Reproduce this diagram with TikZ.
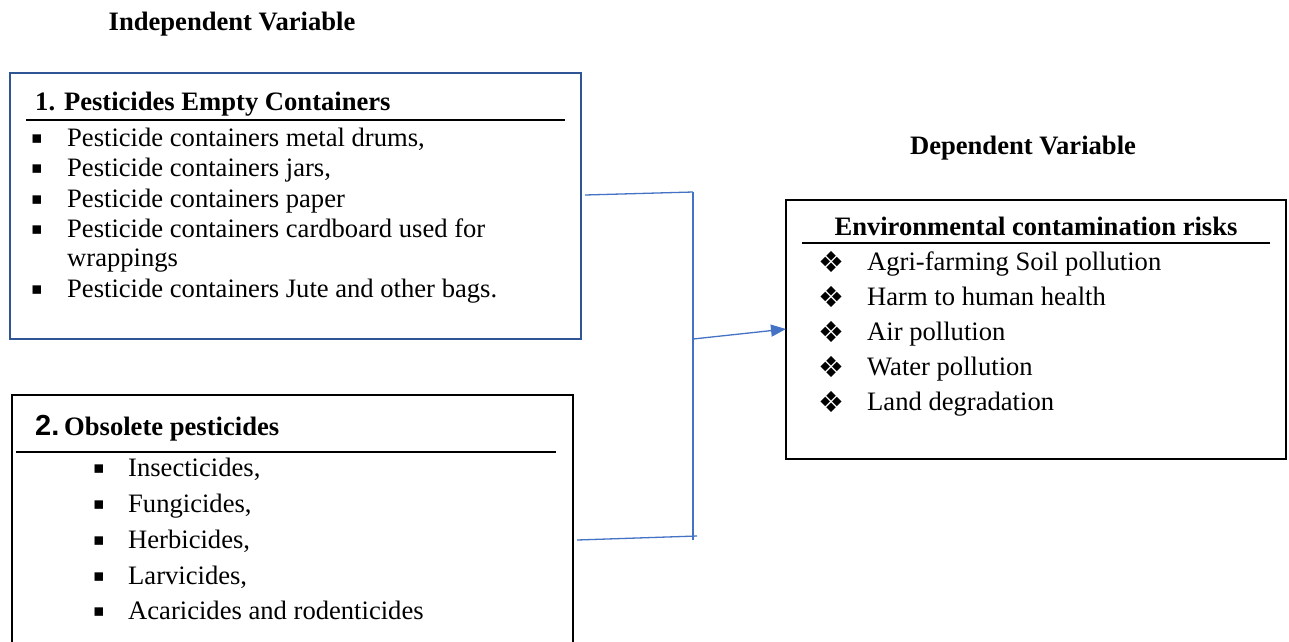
\documentclass[tikz,border=0pt]{standalone}
\usepackage{fontspec}
\setmainfont{Liberation Serif}
\newfontfamily\symfont{DejaVu Sans}
\newfontfamily\arialfont{Liberation Sans}
\usetikzlibrary{arrows.meta}
\definecolor{conblue}{HTML}{4472C4}
\definecolor{boxblue}{HTML}{2F5597}
\tikzset{
  txt/.style={anchor=base west, inner sep=0pt, font=\fontsize{26.6}{30}\selectfont},
  headtxt/.style={anchor=base west, inner sep=0pt, font=\bfseries\fontsize{26.6}{30}\selectfont},
  sqbullet/.style={anchor=center, inner sep=0pt, font=\symfont\fontsize{17}{17}\selectfont},
  diabullet/.style={anchor=center, inner sep=0pt, font=\symfont\fontsize{29}{29}\selectfont},
  conn/.style={draw=conblue, line width=1.3pt},
  hrule/.style={draw=black, line width=2.2pt},
  boxline/.style={draw=black, line width=2pt},
}
\begin{document}
\begin{tikzpicture}[x=1pt,y=-1pt]
\useasboundingbox[fill=white] (0,0) rectangle (1289,641);

% titles
\node[headtxt, anchor=base] (indep) at (232,30) {Independent Variable};
\node[headtxt, anchor=base] (dep) at (1023,154) {Dependent Variable};

% box 1
\draw[draw=boxblue, line width=2.6pt] (10,73) rectangle (581,339);
\node[headtxt] (h1) at (35,110) {1. Pesticides Empty Containers};
\draw[hrule] (26,120) -- (565,120);
\foreach \y/\t [count=\i] in {146/{Pesticide containers metal drums,},176/{Pesticide containers jars,},207/{Pesticide containers paper},237/{Pesticide containers cardboard used for},297/{Pesticide containers Jute and other bags.}}{
  \node[sqbullet] (ba\i) at (37,\y-7) {▪};
  \node[txt] (ta\i) at (67,\y) {\t};
}
\node[txt] (ta6) at (67,266) {wrappings};

% box 2
\draw[boxline] (12,650) -- (12,395) -- (573,395) -- (573,650);
\node[anchor=base west, inner sep=0pt, font=\arialfont\bfseries\fontsize{29}{30}\selectfont] (h2n) at (35,435) {2.};
\node[headtxt] (h2) at (h2n.base east) {\,Obsolete pesticides};
\draw[hrule] (16,452) -- (556,452);
\foreach \y/\t [count=\i] in {476/{Insecticides,},512/{Fungicides,},548/{Herbicides,},584/{Larvicides,},619/{Acaricides and rodenticides}}{
  \node[sqbullet] (bb\i) at (99,\y-7) {▪};
  \node[txt] (tb\i) at (128,\y) {\t};
}

% box 3
\draw[boxline] (786,200) rectangle (1286,459);
\node[headtxt, anchor=base] (h3) at (1036,235) {Environmental contamination risks};
\draw[hrule] (802,243) -- (1270,243);
\foreach \y/\t [count=\i] in {270/{Agri-farming Soil pollution},305/{Harm to human health},340/{Air pollution},375/{Water pollution},410/{Land degradation}}{
  \node[diabullet] (bc\i) at (831,\y-8) {❖};
  \node[txt] (tc\i) at (867,\y) {\t};
}

% connectors
\coordinate (s1) at (585,195);
\coordinate (j1) at (693,192);
\coordinate (s2) at (577,540);
\coordinate (j2) at (697,536);
\coordinate (jt) at (693,192);
\coordinate (jb) at (693,540);
\coordinate (jm) at (693,339);
\coordinate (tgt) at (786,329);
\draw[conn] (s1) -- (j1);
\draw[conn] (jt) -- (jb);
\draw[conn] (s2) -- (j2);
\draw[conn, -{Triangle[length=15pt,width=12pt]}] (jm) -- (tgt);
\end{tikzpicture}
\end{document}
